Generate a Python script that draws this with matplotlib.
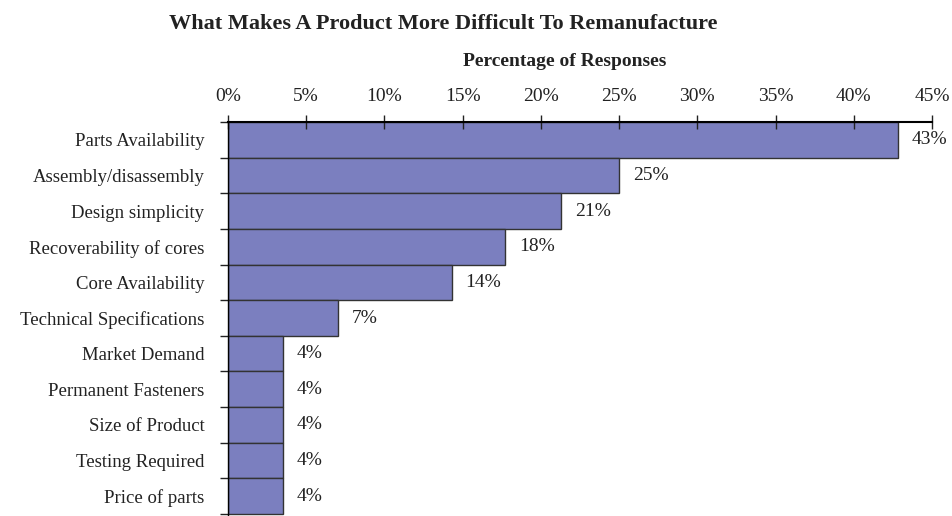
import matplotlib
matplotlib.use("Agg")
import matplotlib.pyplot as plt
from matplotlib.ticker import FixedLocator, PercentFormatter
import numpy as np

categories = ["Parts Availability", "Assembly/disassembly", "Design simplicity",
              "Recoverability of cores", "Core Availability", "Technical Specifications",
              "Market Demand", "Permanent Fasteners", "Size of Product",
              "Testing Required", "Price of parts"]
values = [42.8, 25.0, 21.3, 17.7, 14.3, 7.0, 3.5, 3.5, 3.5, 3.5, 3.5]
value_labels = ["43%", "25%", "21%", "18%", "14%", "7%", "4%", "4%", "4%", "4%", "4%"]
xticks = [0, 5, 10, 15, 20, 25, 30, 35, 40, 45]

plt.rcParams['font.family'] = ['Liberation Serif', 'DejaVu Serif']

fig = plt.figure(figsize=(9.52, 5.16), dpi=100)
ax = fig.add_axes([228/952, 0.0, (932-228)/952, 1 - 122/516])

y = np.arange(len(categories))
ax.barh(y, values, height=1.0, color="#7b7fbf", edgecolor="#333333", linewidth=1.0)
ax.set_xlim(0, 45)
ax.set_ylim(10.5 + 2/36, -0.5)

ax.xaxis.tick_top()
ax.set_xticks(xticks)
ax.xaxis.set_major_formatter(PercentFormatter(decimals=0))
ax.tick_params(axis='x', direction='inout', length=10, width=1, pad=7,
               labelsize=14, colors='#222222')

ax.set_yticks(y)
ax.set_yticklabels(categories)
ax.tick_params(axis='y', length=0, pad=17, labelsize=13.5, labelcolor='#222222')
ax.yaxis.set_minor_locator(FixedLocator(np.arange(-0.5, len(categories), 1.0)))
ax.tick_params(axis='y', which='minor', direction='out', length=6, width=1, color='#222222')

for s in ['right', 'bottom']:
    ax.spines[s].set_visible(False)
ax.spines['top'].set_linewidth(1.5)
ax.spines['left'].set_linewidth(1.0)

for yi, v, lab in zip(y, values, value_labels):
    ax.annotate(lab, (v, yi), xytext=(10, 0), textcoords='offset points',
                va='center', ha='left', fontsize=14, color='#222222')

fig.text(565/952, 1 - 62/516, "Percentage of Responses",
         ha='center', va='center', fontsize=14, fontweight='bold', color='#222222')
fig.text(443/952, 1 - 24/516, "What Makes A Product More Difficult To Remanufacture",
         ha='center', va='center', fontsize=16, fontweight='bold', color='#222222')

fig.savefig("out.png", dpi=100)
